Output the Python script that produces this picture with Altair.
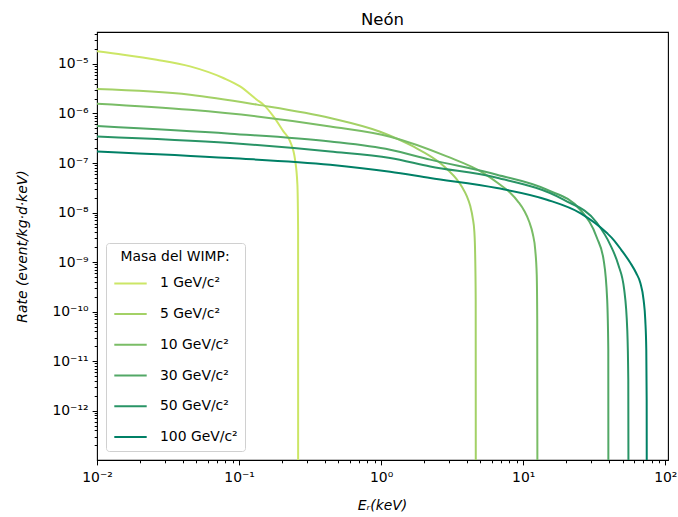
import altair as alt
import pandas as pd

labels = ["1 GeV/c²", "5 GeV/c²", "10 GeV/c²", "30 GeV/c²", "50 GeV/c²", "100 GeV/c²"]
colors = ["#cce666", "#a3d166", "#7abd66", "#52a866", "#299466", "#008066"]

E_1 = [0.01, 0.0153, 0.0263, 0.0452, 0.0775, 0.1016, 0.1333, 0.1484, 0.1745, 0.2052, 0.2287, 0.2477, 0.2574, 0.2603, 0.2606]
R_1 = [1.80e-5, 1.54e-5, 1.22e-5, 8.95e-6, 5.21e-6, 3.52e-6, 1.90e-6, 1.51e-6, 8.74e-7, 4.35e-7, 2.73e-7, 1.17e-7, 3.65e-8, 4.5e-9, 1e-15]

E_5 = [0.01, 0.0452, 0.134, 0.438, 0.984, 1.68, 2.603, 2.964, 3.375, 3.72, 4.00, 4.235, 4.41, 4.53, 4.59, 4.63, 4.64]
R_5 = [3.13e-6, 2.40e-6, 1.51e-6, 8.12e-7, 4.29e-7, 2.16e-7, 1.0e-7, 7.16e-8, 4.82e-8, 3.24e-8, 2.18e-8, 1.37e-8, 7.85e-9, 4.09e-9, 1.40e-9, 1.73e-10, 1e-15]

E_10 = [0.01, 0.0452, 0.134, 0.438, 1.157, 2.90, 5.25, 6.89, 8.10, 9.22, 10.16, 11.02, 11.67, 12.15, 12.45, 12.55, 12.6]
R_10 = [1.58e-6, 1.19e-6, 8.74e-7, 5.48e-7, 3.40e-7, 1.36e-7, 6.28e-8, 3.65e-8, 2.51e-8, 1.65e-8, 1.09e-8, 6.52e-9, 3.73e-9, 1.77e-9, 5.53e-10, 6.8e-11, 1e-15]

E_30 = [0.01, 0.0864, 0.438, 1.157, 2.213, 6.53, 14.69, 25.2, 33.0, 36.8, 39.0, 39.7, 39.8]
R_30 = [5.58e-7, 3.91e-7, 2.73e-7, 1.86e-7, 1.17e-7, 5.81e-8, 2.89e-8, 1.14e-8, 3.10e-9, 1.11e-9, 1.73e-10, 1.69e-11, 1e-15]

E_50 = [0.01, 0.0864, 0.438, 1.157, 2.213, 6.53, 19.22, 33.0, 41.0, 46.7, 51.4, 54.0, 54.9, 55.2]
R_50 = [3.44e-7, 2.53e-7, 1.71e-7, 1.26e-7, 8.54e-8, 5.05e-8, 1.82e-8, 6.22e-9, 2.23e-9, 8.81e-10, 2.75e-10, 4.28e-11, 4.19e-12, 1e-15]

E_100 = [0.01, 0.0864, 0.438, 1.157, 2.213, 6.53, 14.69, 25.2, 38.85, 43.25, 48.98, 56.7, 62.5, 66.7, 70.35, 72.3, 73.5, 73.96, 74.2]
R_100 = [1.71e-7, 1.26e-7, 9.24e-8, 6.67e-8, 4.98e-8, 3.13e-8, 1.82e-8, 9.77e-9, 3.85e-9, 2.82e-9, 1.77e-9, 9.68e-10, 5.94e-10, 3.82e-10, 1.73e-10, 6.8e-11, 1.69e-11, 1.65e-12, 1e-15]

x_major = [-2, -1, 0, 1, 2]
y_major = [-12, -11, -10, -9, -8, -7, -6, -5]
X_DOMAIN = [0.01, 104.5]
Y_DOMAIN = [1.01e-13, 4.42e-5]

series = [(labels[0], E_1, R_1), (labels[1], E_5, R_5), (labels[2], E_10, R_10),
          (labels[3], E_30, R_30), (labels[4], E_50, R_50), (labels[5], E_100, R_100)]
rows = []
for lab, es, rs in series:
    for k, (e, r) in enumerate(zip(es, rs)):
        rows.append({"mass": lab, "E": e, "R": r, "k": k})
df = pd.DataFrame(rows)

SUP = {"-": "⁻", "0": "⁰", "1": "¹", "2": "²", "3": "³", "4": "⁴",
       "5": "⁵", "6": "⁶", "7": "⁷", "8": "⁸", "9": "⁹"}


def sup(n):
    return "".join(SUP[c] for c in str(n))


LG = "(log(datum.value)/LN10)"
MINOR_TEST = f"abs({LG} - round({LG})) > 0.001"


def label_expr(exps):
    expr = "''"
    for e in exps:
        expr = f"round({LG}) == {e} ? '10{sup(e)}' : ({expr})"
    return f"{MINOR_TEST} ? '' : ({expr})"


def tick_values(exps_lo, exps_hi, lo, hi):
    vals = []
    for d in range(exps_lo, exps_hi + 1):
        for m in range(1, 10):
            v = m * 10.0 ** d
            if lo <= v <= hi:
                vals.append(v)
    return vals


x_ticks = tick_values(-2, 2, X_DOMAIN[0], X_DOMAIN[1])
y_ticks = tick_values(-13, -5, Y_DOMAIN[0], Y_DOMAIN[1])

tick_size = {"condition": {"test": MINOR_TEST, "value": 2.8}, "value": 4.9}
FS = 13.9

x_axis = alt.Axis(values=x_ticks, labelExpr=label_expr(x_major), tickSize=tick_size,
                  domain=False, grid=False, labelOverlap=False, labelFlush=False,
                  labelFontSize=FS, labelColor="black", tickColor="black", labelPadding=6,
                  title="Eᵣ(keV)", titleFontSize=FS, titleFontStyle="italic",
                  titleFontWeight="normal", titleColor="black",
                  titleX=285, titleY=45, titleBaseline="middle", titleAlign="center")
y_axis = alt.Axis(values=y_ticks, labelExpr=label_expr(y_major), tickSize=tick_size,
                  domain=False, grid=False, labelOverlap=False, labelFlush=False,
                  labelFontSize=FS, labelColor="black", tickColor="black", labelPadding=4,
                  title="Rate (event/kg·d·keV)", titleFontSize=FS, titleFontStyle="italic",
                  titleFontWeight="normal", titleColor="black",
                  titleX=-75, titleY=214, titleAngle=270, titleBaseline="middle",
                  titleAlign="center")

chart = alt.Chart(df).mark_line(clip=True, strokeWidth=2, interpolate="monotone").encode(
    x=alt.X("E:Q", scale=alt.Scale(type="log", domain=X_DOMAIN, nice=False), axis=x_axis),
    y=alt.Y("R:Q", scale=alt.Scale(type="log", domain=Y_DOMAIN, nice=False), axis=y_axis),
    color=alt.Color("mass:N", sort=labels, scale=alt.Scale(domain=labels, range=colors),
                    legend=alt.Legend(title="Masa del WIMP:", orient="bottom-left", offset=9,
                                      symbolType="stroke", symbolSize=1050, symbolStrokeWidth=2,
                                      labelFontSize=FS, titleFontSize=FS, titleFontWeight="normal",
                                      labelColor="black", titleColor="black",
                                      fillColor="white", strokeColor="#d0d0d0", cornerRadius=3,
                                      padding=7, rowPadding=5.7, labelOffset=12,
                                      titleAnchor="middle", titleAlign="center", titlePadding=2,
                                      labelLimit=0)),
    order="k:Q",
).properties(
    width=571, height=428,
    title=alt.TitleParams("Neón", fontSize=16.5, fontWeight="normal", color="black",
                          anchor="middle", baseline="alphabetic", offset=6, dy=20),
    padding={"left": 97, "top": 32, "right": 10, "bottom": 57},
    autosize=alt.AutoSizeParams(type="none"),
).configure(font="DejaVu Sans").configure_view(stroke="black", strokeWidth=1.1)

chart.save("out.html", embed_options={"renderer": "svg", "actions": False})
